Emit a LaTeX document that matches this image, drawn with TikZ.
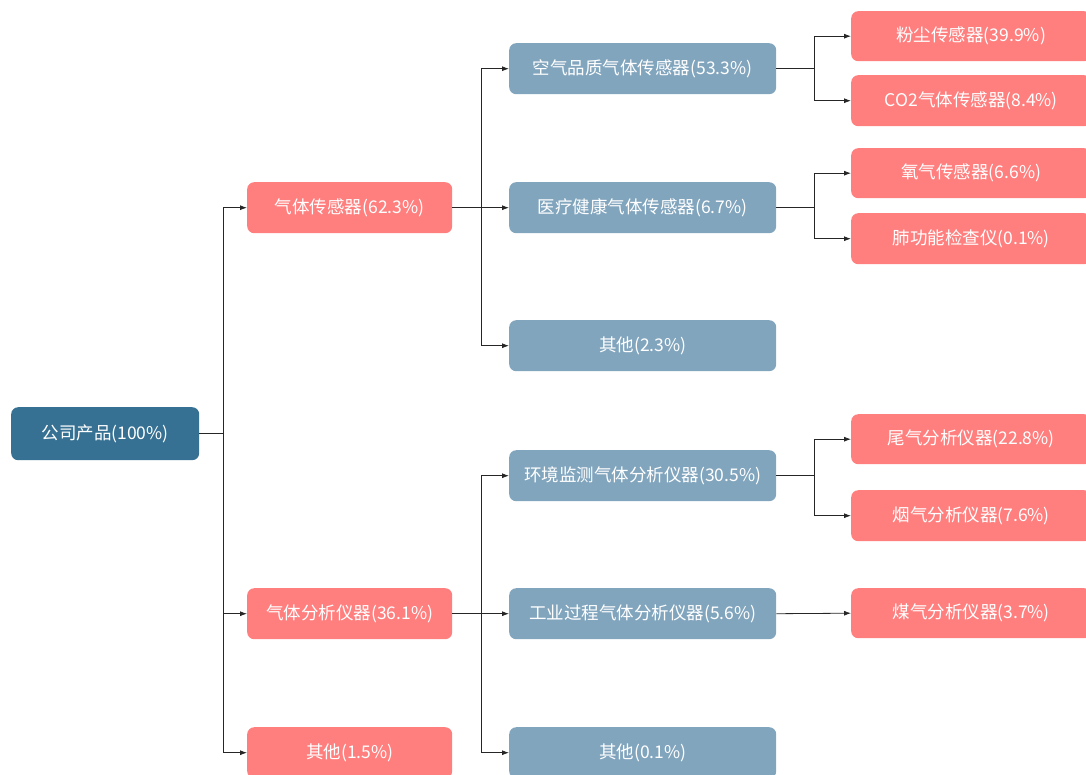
\documentclass[tikz,border=0pt]{standalone}
\usepackage{fontspec}
\setmainfont{Noto Sans CJK SC}
\usetikzlibrary{arrows.meta}
\definecolor{rootblue}{RGB}{54,113,147}
\definecolor{midblue}{RGB}{130,165,190}
\definecolor{salmon}{RGB}{255,127,127}
\tikzset{
  box/.style={rounded corners=7pt, text=white, font=\fontsize{17.5}{20}\selectfont, inner sep=0pt, anchor=north west},
  rootbox/.style={box, fill=rootblue},
  redbox/.style={box, fill=salmon},
  bluebox/.style={box, fill=midblue},
  conn/.style={draw=black!85, line width=0.8pt},
  arr/.style={conn, -{Latex[length=7pt,width=5pt]}},
}
\begin{document}
\begin{tikzpicture}[x=1pt,y=-1pt]
\useasboundingbox (0,0) rectangle (1086,774);
% root
\node[rootbox, minimum width=188pt, minimum height=53pt] (root) at (11,407) {公司产品(100\%)};
% level 1
\node[redbox, minimum width=205pt, minimum height=51pt] (s1) at (247,182) {气体传感器(62.3\%)};
\node[redbox, minimum width=205pt, minimum height=51pt] (s2) at (247,588) {气体分析仪器(36.1\%)};
\node[redbox, minimum width=205pt, minimum height=51pt] (s3) at (247,727) {其他(1.5\%)};
% level 2
\node[bluebox, minimum width=267pt, minimum height=51pt] (a1) at (509,43) {空气品质气体传感器(53.3\%)};
\node[bluebox, minimum width=267pt, minimum height=51pt] (a2) at (509,182) {医疗健康气体传感器(6.7\%)};
\node[bluebox, minimum width=267pt, minimum height=51pt] (a3) at (509,320) {其他(2.3\%)};
\node[bluebox, minimum width=267pt, minimum height=51pt] (b1) at (509,450) {环境监测气体分析仪器(30.5\%)};
\node[bluebox, minimum width=267pt, minimum height=51pt] (b2) at (509,588) {工业过程气体分析仪器(5.6\%)};
\node[bluebox, minimum width=267pt, minimum height=51pt] (b3) at (509,727) {其他(0.1\%)};
% level 3
\node[redbox, minimum width=240pt, minimum height=50pt] (c1) at (851,11) {粉尘传感器(39.9\%)};
\node[redbox, minimum width=240pt, minimum height=51pt] (c2) at (851,75) {CO2气体传感器(8.4\%)};
\node[redbox, minimum width=240pt, minimum height=50pt] (c3) at (851,148) {氧气传感器(6.6\%)};
\node[redbox, minimum width=240pt, minimum height=51pt] (c4) at (851,213) {肺功能检查仪(0.1\%)};
\node[redbox, minimum width=240pt, minimum height=50pt] (d1) at (851,414) {尾气分析仪器(22.8\%)};
\node[redbox, minimum width=240pt, minimum height=51pt] (d2) at (851,490) {烟气分析仪器(7.6\%)};
\node[redbox, minimum width=240pt, minimum height=50pt] (e1) at (851,588) {煤气分析仪器(3.7\%)};
% trunk coordinates
\coordinate (t0) at (223,0);
\coordinate (t1) at (481,0);
\coordinate (t2) at (814,0);
% connectors root
\draw[conn] (root.east) -- (root.east -| t0);
\foreach \n in {s1,s2,s3} \draw[arr] (root.east -| t0) |- (\n.west);
% connectors s1
\draw[conn] (s1.east) -- (s1.east -| t1);
\foreach \n in {a1,a2,a3} \draw[arr] (s1.east -| t1) |- (\n.west);
% connectors s2
\draw[conn] (s2.east) -- (s2.east -| t1);
\foreach \n in {b1,b2,b3} \draw[arr] (s2.east -| t1) |- (\n.west);
% connectors level 2 -> 3
\draw[conn] (a1.east) -- (a1.east -| t2);
\foreach \n in {c1,c2} \draw[arr] (a1.east -| t2) |- (\n.west);
\draw[conn] (a2.east) -- (a2.east -| t2);
\foreach \n in {c3,c4} \draw[arr] (a2.east -| t2) |- (\n.west);
\draw[conn] (b1.east) -- (b1.east -| t2);
\foreach \n in {d1,d2} \draw[arr] (b1.east -| t2) |- (\n.west);
\draw[arr] (b2.east) -- (e1.west);
\end{tikzpicture}
\end{document}
